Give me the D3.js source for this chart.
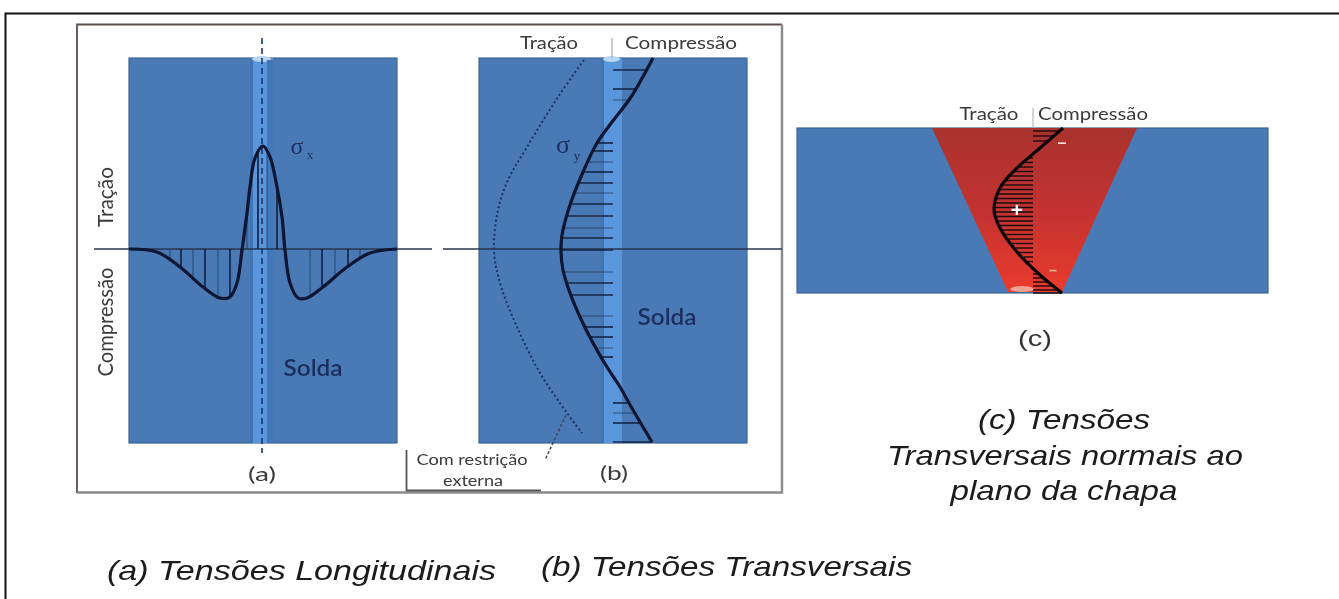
<!DOCTYPE html>
<html><head><meta charset="utf-8">
<style>html,body{margin:0;padding:0;background:#fff;overflow:hidden}svg{display:block}</style>
<script src="https://cdn.jsdelivr.net/npm/d3@7/dist/d3.min.js"></script>
</head><body><svg id="c" width="1339" height="599"></svg>
<script>
// Panel (a): offset from weld centre, longitudinal stress
const curveA=[[-132,0],[-104,-3],[-81,-18],[-58,-38],[-41,-49],[-31,-48],[-24,-34],[-19,-1],[-14,36],[-11,62],[-6,91],[2,103],[9,92],[16,62],[21,32],[24,-1],[29,-34],[37,-49],[46,-49],[62,-38],[86,-18],[109,-4],[136,0]];
const hatchA=[[-91,-9],[-80,-18],[-68,-30],[-56,-39],[-43,-47],[-31,-47],[-14,36],[-3,100],[6,97],[16,62],[49,-48],[61,-38],[74,-28],[87,-17],[99,-9]];
// Panel (b): transverse stress, position along the weld
const curveB=[[41,191],[19,152],[0,127],[-15,106],[-29,77],[-42,44],[-50,14],[-51,-1],[-49,-21],[-42,-44],[-32,-68],[-19,-94],[-5,-118],[8,-138],[21,-161],[40,-193]];
const dottedB=[[-28,189],[-54,152],[-85,102],[-104,69],[-114,39],[-118,-1],[-112,-34],[-95,-78],[-72,-124],[-45,-164],[-30,-184]];
const hatchB=[[35,179],[23,160],[15,149],[-15,106],[-20,98],[-25,87],[-30,77],[-34,66],[-38,56],[-42,45],[-46,33],[-49,21],[-50,11],[-51,-1],[-48,-23],[-44,-34],[-40,-46],[-31,-67],[-26,-78],[-22,-88],[-16,-99],[-11,-108],[16,-154],[22,-164],[28,-174],[40,-193]];
// Panel (c): stress, depth through the plate
const curveC=[[30,0],[7,20],[-16,40],[-33,60],[-39,82],[-33,100],[-16,124],[7,147],[29,165]];
const hatchC=[[27,3],[21,8],[15,13],[-5,30],[-10,34.5],[-15,39],[-20,43.5],[-24,48],[-28,52.5],[-31,57],[-34,61.5],[-36,66],[-38,70.5],[-39,75],[-39,79.5],[-39,84],[-38,88.5],[-36,93],[-34,97.5],[-31,102],[-28,106.5],[-25,111],[-22,115.5],[-18,120],[-14,124.5],[-9,129],[-5,133.5],[6,146],[11,150],[15,154],[20,158],[25,162],[29,165]];
const weldC=[[-101,0],[104,0],[29,164],[-25,164]];
const domA=[-132,136], domV=[191,-194], domB=[-133,135], domCx=[-236,235], domCy=[0,165];
const bandA=[-11,12], bandB=[-11,10];

const svg=d3.select('#c');
const defs=svg.append('defs');
defs.append('filter').attr('id','soft').attr('x','-2%').attr('y','-2%').attr('width','104%').attr('height','104%')
 .append('feGaussianBlur').attr('stdDeviation',0.7);
const rg=defs.append('linearGradient').attr('id','red').attr('x1',0).attr('x2',0).attr('y1',0).attr('y2',1);
rg.append('stop').attr('offset',0).attr('stop-color','#a9302f');
rg.append('stop').attr('offset',0.55).attr('stop-color','#c63330');
rg.append('stop').attr('offset',1).attr('stop-color','#ea3b2d');

// page frame
svg.append('path').attr('d',d3.line()([[5.5,599],[5.5,13.5],[1339,13.5]])).attr('fill','none').attr('stroke','#111').attr('stroke-width',2);
const g=svg.append('g').attr('filter','url(#soft)');

const BLUE='#4a7ab5',EDGE='#3a6494',BAND='#5a96dc',INK='#12203f';
const xA=d3.scaleLinear().domain(domA).range([129,397]);
const yV=d3.scaleLinear().domain(domV).range([58,443]);
const xB=d3.scaleLinear().domain(domB).range([479,747]);
const xC=d3.scaleLinear().domain(domCx).range([797,1268]);
const yC=d3.scaleLinear().domain(domCy).range([128,293]);
const spline=d3.curveCatmullRom.alpha(0.5);

// inner frame
g.append('path').attr('d',d3.line()([[77,493],[77,24.5],[782,24.5]])).attr('fill','none').attr('stroke','#5b504c').attr('stroke-width',1.8);
g.append('path').attr('d',d3.line()([[77,492.5],[782,492.5],[782,24.5]])).attr('fill','none').attr('stroke','#8a8a8a').attr('stroke-width',2.4);

function plate(x,dom,band,y0,y1){
  g.append('rect').attr('x',x(dom[0])).attr('y',y0).attr('width',x(dom[1])-x(dom[0])).attr('height',y1-y0).attr('fill',BLUE).attr('stroke',EDGE).attr('stroke-width',1.2);
  g.append('rect').attr('x',x(band[0])).attr('y',y0).attr('width',x(band[1])-x(band[0])).attr('height',y1-y0).attr('fill',BAND);
  g.append('rect').attr('x',x(band[0])).attr('y',y0).attr('width',3).attr('height',y1-y0).attr('fill','#3f74b4');
  g.append('ellipse').attr('cx',(x(band[0])+x(band[1]))/2).attr('cy',y0+1).attr('rx',(x(band[1])-x(band[0]))/2-2).attr('ry',3).attr('fill','#b8d6f4');
}
plate(xA,domA,bandA,58,443);
plate(xB,domB,bandB,58,443);
// a right band edge
g.append('rect').attr('x',xA(bandA[1])-6).attr('y',60).attr('width',6).attr('height',383).attr('fill','#4278ba');

// zero lines
g.append('line').attr('x1',94).attr('x2',432).attr('y1',yV(0)).attr('y2',yV(0)).attr('stroke','#26364f').attr('stroke-width',1.6);
g.append('line').attr('x1',443).attr('x2',782).attr('y1',yV(0)).attr('y2',yV(0)).attr('stroke','#26364f').attr('stroke-width',1.6);

// centre lines
g.append('line').attr('x1',xA(0)+1).attr('x2',xA(0)+1).attr('y1',38).attr('y2',453).attr('stroke','#1a3670').attr('stroke-width',1.6).attr('stroke-dasharray','6 4');
g.append('line').attr('x1',xB(0)).attr('x2',xB(0)).attr('y1',38).attr('y2',58).attr('stroke','#999').attr('stroke-width',1);

// panel a
g.append('g').selectAll('line').data(hatchA).join('line')
 .attr('x1',d=>xA(d[0])).attr('x2',d=>xA(d[0])).attr('y1',yV(0)).attr('y2',d=>yV(d[1]))
 .attr('stroke',INK).attr('stroke-width',(d,i)=>i%2?1.7:1).attr('opacity',(d,i)=>i%2?0.95:0.6);
g.append('path').datum(curveA).attr('d',d3.line().x(d=>xA(d[0])).y(d=>yV(d[1])).curve(spline)).attr('fill','none').attr('stroke','#0a1230').attr('stroke-width',3.2);

// panel b
g.append('g').selectAll('line').data(hatchB).join('line')
 .attr('x1',d=>xB(d[0])).attr('x2',xB(0)+1).attr('y1',d=>yV(d[1])).attr('y2',d=>yV(d[1]))
 .attr('stroke',INK).attr('stroke-width',(d,i)=>i%3==2?1:1.6).attr('opacity',(d,i)=>i%3==2?0.6:0.95);
g.append('path').datum(curveB).attr('d',d3.line().x(d=>xB(d[0])).y(d=>yV(d[1])).curve(spline)).attr('fill','none').attr('stroke','#0a1230').attr('stroke-width',3.2);
g.append('path').datum(dottedB).attr('d',d3.line().x(d=>xB(d[0])).y(d=>yV(d[1])).curve(spline)).attr('fill','none').attr('stroke','#1a2f66').attr('stroke-width',2).attr('stroke-dasharray','2 2.6');
// leader and bracket
g.append('path').attr('d','M566 415L545 460').attr('stroke','#445').attr('stroke-width',1.5).attr('stroke-dasharray','3 2').attr('fill','none');
g.append('path').attr('d','M406.5 450V490.5H541').attr('stroke','#555').attr('stroke-width',1.8).attr('fill','none');

// panel c
g.append('rect').attr('x',797).attr('y',128).attr('width',471).attr('height',165).attr('fill',BLUE).attr('stroke',EDGE).attr('stroke-width',1.2);
g.append('path').datum(weldC).attr('d',d3.line().x(d=>xC(d[0])).y(d=>yC(d[1]))).attr('fill','url(#red)');
g.append('ellipse').attr('cx',xC(-11)).attr('cy',yC(161)).attr('rx',12).attr('ry',3).attr('fill','#f0a090');
g.append('line').attr('x1',xC(0)).attr('x2',xC(0)).attr('y1',108).attr('y2',128).attr('stroke','#aaa').attr('stroke-width',1);
g.append('g').selectAll('line').data(hatchC).join('line')
 .attr('x1',d=>xC(d[0])).attr('x2',xC(0)).attr('y1',d=>yC(d[1])).attr('y2',d=>yC(d[1]))
 .attr('stroke','#1a0808').attr('stroke-width',1.4);
g.append('path').datum(curveC).attr('d',d3.line().x(d=>xC(d[0])).y(d=>yC(d[1])).curve(spline)).attr('fill','none').attr('stroke','#0a0505').attr('stroke-width',3.2);

// text
function t(s,x,y,size,o={}){
  const e=g.append('text').attr('x',x).attr('y',y).attr('font-family',o.f||'Lato, "Open Sans", sans-serif').attr('font-size',size)
   .attr('text-anchor',o.a||'middle').attr('fill',o.c||'#3a3a3a').text(s);
  if(o.i)e.attr('font-style','italic');
  if(o.w)e.attr('font-weight',o.w);
  if(o.len)e.attr('textLength',o.len).attr('lengthAdjust',o.adj||'spacingAndGlyphs');
  if(o.r!=null)e.attr('transform',`rotate(${o.r} ${x} ${y})`);
  return e;
}
const ARIAL='"Liberation Sans", Arial, sans-serif', SER='"Liberation Serif", serif';
t('Tração',113,197,21,{r:-90,len:60});
t('Compressão',113,322,21,{r:-90,len:109});
t('Tração',549,49,17,{len:58});
t('Compressão',681,49,17,{len:112});
t('Tração',989,120,17,{len:59});
t('Compressão',1093,120,17,{len:110});
t('Solda',313,376,22,{c:'#1c2f5e',len:59,w:'600'});
t('Solda',667,325,22,{c:'#1c2f5e',len:59,w:'600'});
t('(a)',262,481,20,{len:28});
t('(b)',614,480,20,{len:28});
t('Com restrição',472,465,16,{len:111});
t('externa',473,486,16,{len:60});
t('σ',297,154,24,{f:SER,c:'#1c2f5e'});
t('x',310,159,13,{f:SER,c:'#1c2f5e'});
t('σ',563,153,26,{f:SER,c:'#1c2f5e'});
t('y',577,160,13,{f:SER,c:'#1c2f5e'});
t('–',1062,148,16,{f:ARIAL,c:'#f4dcd4',w:'bold'});
t('+',1017,217,21,{f:ARIAL,c:'#fff',w:'bold'});
t('–',1053,275,14,{f:ARIAL,c:'#f3c0a0',w:'bold'});
t('(c)',1035,346,22,{f:ARIAL,c:'#333',len:34});
t('(c) Tensões',1064,429,28,{f:ARIAL,i:1,c:'#1a1a1a',len:172});
t('Transversais normais ao',1065,465,28,{f:ARIAL,i:1,c:'#1a1a1a',len:356});
t('plano da chapa',1064,500,28,{f:ARIAL,i:1,c:'#1a1a1a',len:227});
t('(a) Tensões Longitudinais',107,580,28,{f:ARIAL,i:1,a:'start',c:'#1a1a1a',len:389});
t('(b) Tensões Transversais',541,576,28,{f:ARIAL,i:1,a:'start',c:'#1a1a1a',len:371});
</script></body></html>
